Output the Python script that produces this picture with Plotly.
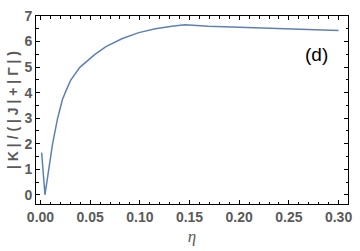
import plotly.graph_objects as go

eta = [0.0012, 0.0045, 0.0082, 0.0121, 0.0171, 0.0221, 0.0247, 0.0303, 0.0396, 0.0493, 0.0545,
       0.0659, 0.0824, 0.0990, 0.1156, 0.1321, 0.1455, 0.1690, 0.2085, 0.2580, 0.3000]
ratio = [1.65, 0.0, 0.96, 1.97, 2.97, 3.73, 3.98, 4.48, 4.99, 5.33, 5.49,
         5.80, 6.12, 6.35, 6.50, 6.60, 6.66, 6.60, 6.55, 6.48, 6.43]

x_ticks = [0.0, 0.05, 0.10, 0.15, 0.20, 0.25, 0.30]
x_tick_labels = ["0.00", "0.05", "0.10", "0.15", "0.20", "0.25", "0.30"]
y_ticks = [0, 1, 2, 3, 4, 5, 6, 7]

gray = "#5a5a5a"
sans = "Liberation Sans, Arial"
fig = go.Figure()
fig.add_trace(go.Scatter(x=eta, y=ratio, mode="lines", line=dict(color="#5E81B5", width=1.5)))

fig.add_annotation(x=0.2775, y=5.49, text="(d)", showarrow=False, font=dict(family=sans, size=19, color="black"))

axis_common = dict(showgrid=False, zeroline=False, showline=True, linecolor="black", linewidth=1,
                   mirror="ticks", ticks="inside", ticklen=4, tickcolor="black",
                   tickfont=dict(family=sans, size=14, color=gray, weight="bold"))
fig.update_xaxes(range=[-0.0045, 0.3095], tickvals=x_ticks, ticktext=x_tick_labels,
                 minor=dict(dtick=0.01, tick0=0, ticks="inside", ticklen=2.5, tickcolor="black"),
                 title=dict(text="<i>η</i>", font=dict(family="Liberation Serif, Times New Roman", size=17, color=gray), standoff=6),
                 **axis_common)
fig.update_yaxes(range=[-0.36, 7.0], tickvals=y_ticks,
                 minor=dict(dtick=0.5, tick0=0, ticks="inside", ticklen=2.5, tickcolor="black"),
                 title=dict(text="| K | / ( | J | + | Γ | )", font=dict(family=sans, size=14, color=gray, weight="bold"), standoff=2),
                 **axis_common)
fig.update_layout(width=360, height=251, margin=dict(l=36, r=8, t=10, b=46),
                  plot_bgcolor="white", paper_bgcolor="white", showlegend=False)
fig.write_html("out.html")
